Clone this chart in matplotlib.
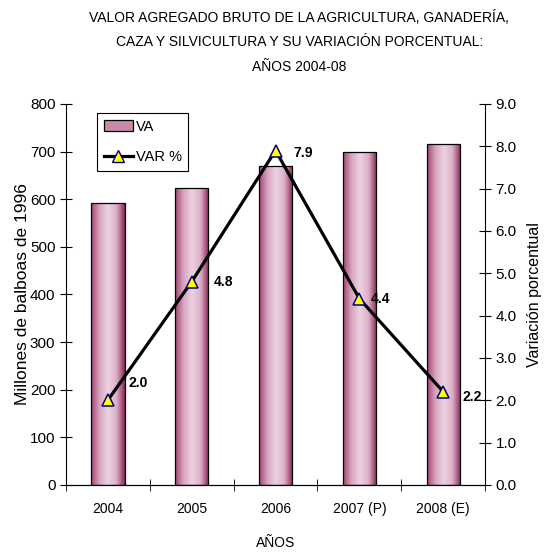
import numpy as np
import matplotlib.pyplot as plt
from matplotlib.colors import LinearSegmentedColormap
from matplotlib.patches import Rectangle

plt.rcParams['font.family'] = ['Liberation Sans', 'DejaVu Sans']

years = ['2004', '2005', '2006', '2007 (P)', '2008 (E)']
va = [592, 623, 670, 699, 716]
var_pct = [2.0, 4.8, 7.9, 4.4, 2.2]
var_labels = ['2.0', '4.8', '7.9', '4.4', '2.2']
# label offsets in pixels (placed by hand in the original)
label_off = [(21, 17), (22, 0), (18, -2), (11, 0), (19, -5)]

fig = plt.figure(figsize=(5.44, 5.53), dpi=100)
ax = fig.add_axes([0.121, 0.123, 0.771, 0.689])

cmap = LinearSegmentedColormap.from_list(
    'barg', ['#a04470', '#d7a4bf', '#ecd3e1', '#dcb0c7', '#8a2556'])
grad = np.linspace(0, 1, 256).reshape(1, -1)

x = np.arange(len(years))
w = 0.4
for xi, v in zip(x, va):
    im = ax.imshow(grad, cmap=cmap, aspect='auto',
                   extent=[xi - w / 2, xi + w / 2, 0, v], zorder=2)
    r = Rectangle((xi - w / 2, 0), w, v, fill=False, edgecolor='black',
                  linewidth=0.9, zorder=3)
    ax.add_patch(r)
    im.set_clip_path(r)

ax.set_xlim(-0.5, len(years) - 0.5)
ax.set_ylim(0, 800)
ax.set_yticks(range(0, 801, 100))
ax.set_xticks(x)
ax.set_xticklabels(years, fontsize=10)
ax.set_xticks(np.arange(-0.5, len(years), 1), minor=True)
ax.tick_params(axis='x', which='major', length=0, pad=12)
ax.tick_params(axis='x', which='minor', direction='inout', length=8)
ax.tick_params(axis='y', direction='inout', length=8, labelsize=11)
ax.spines['top'].set_visible(False)
ax.spines['right'].set_visible(False)
ax.set_ylabel('Millones de balboas de 1996', fontsize=12.5, labelpad=0)
ax.set_xlabel('AÑOS', fontsize=10, labelpad=15)

ax2 = ax.twinx()
ax2.plot(x, var_pct, color='black', linewidth=2.3, marker='^',
         markersize=8.5, markerfacecolor='#ffff00', markeredgecolor='#000080',
         markeredgewidth=1.1, zorder=5)
for xi, v, lab, off in zip(x, var_pct, var_labels, label_off):
    ax2.annotate(lab, (xi, v), xytext=(off[0] * 0.72, off[1] * 0.72),
                 textcoords='offset points', fontsize=10, fontweight='bold',
                 va='center', ha='left')
ax2.set_ylim(0, 9)
ax2.set_yticks(np.arange(0, 9.1, 1))
ax2.set_yticklabels([f'{t:.1f}' for t in np.arange(0, 9.1, 1)])
ax2.tick_params(axis='y', direction='inout', length=8, labelsize=11)
ax2.spines['top'].set_visible(False)
ax2.spines['left'].set_visible(False)
ax2.set_ylabel('Variación porcentual', fontsize=11.5, labelpad=7)

h1 = Rectangle((0, 0), 1, 1, facecolor='#c98aaa', edgecolor='black', linewidth=0.9)
h2, = ax2.plot([], [], color='black', linewidth=2.3, marker='^', markersize=8.5,
               markerfacecolor='#ffff00', markeredgecolor='#000080')
leg = ax2.legend([h1, h2], ['VA', 'VAR %'], loc='upper left',
                 bbox_to_anchor=(0.075, 0.976), fontsize=10.5, fancybox=False,
                 edgecolor='black', framealpha=1, handlelength=2.0,
                 handletextpad=0.2, borderpad=0.45, labelspacing=1.15,
                 borderaxespad=0)
leg.get_frame().set_linewidth(0.8)

fig.text(0.55, 0.982, 'VALOR AGREGADO BRUTO DE LA AGRICULTURA, GANADERÍA,\n'
         'CAZA Y SILVICULTURA Y SU VARIACIÓN PORCENTUAL:\nAÑOS 2004-08',
         ha='center', va='top', fontsize=10, linespacing=1.95)

fig.savefig('out.png', dpi=100)
